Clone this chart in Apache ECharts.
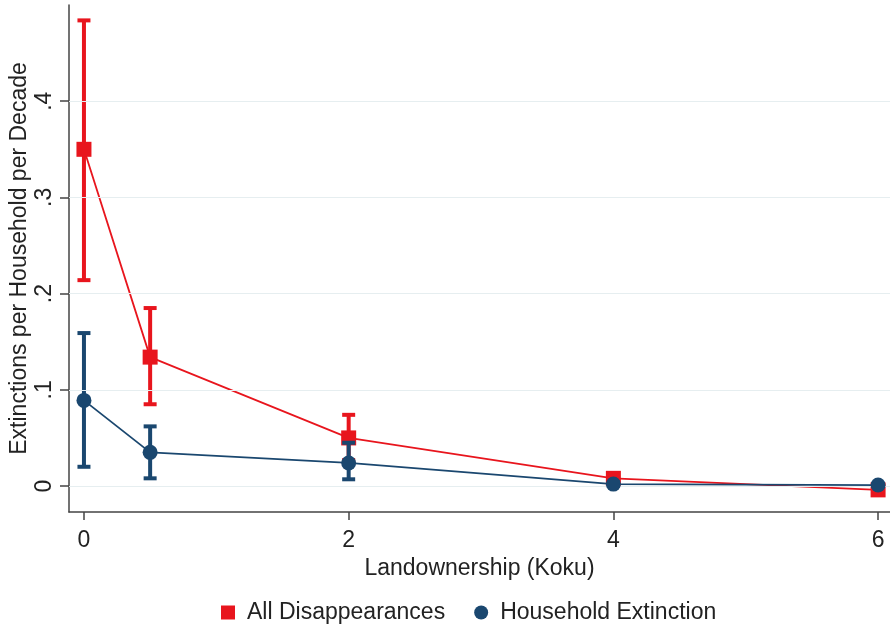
<!DOCTYPE html>
<html><head><meta charset="utf-8">
<script src="https://cdn.jsdelivr.net/npm/echarts@6/dist/echarts.min.js"></script>
<style>html,body{margin:0;padding:0;background:#fff}#c{width:890px;height:631px}</style>
</head><body><div id="c"></div>
<script>
var xValues = [0, 0.5, 2, 4, 6];
var allMean = [0.350, 0.134, 0.050, 0.008, -0.004];
var allLow  = [0.214, 0.085, 0.027, 0.004, -0.007];
var allHigh = [0.484, 0.185, 0.074, 0.011, -0.001];
var extMean = [0.089, 0.035, 0.024, 0.002, 0.001];
var extLow  = [0.020, 0.008, 0.007, 0.000, 0.000];
var extHigh = [0.159, 0.062, 0.045, 0.004, 0.002];
var xTicks = [0, 2, 4, 6];
var yTicks = [0, 0.1, 0.2, 0.3, 0.4];
var yTickLabels = ['0', '.1', '.2', '.3', '.4'];

var RED = '#e8151d', NAVY = '#1a476f';
var FONT = 'Liberation Sans, Arial, sans-serif';
var FS = 23;

function pairs(ys){ return xValues.map(function(x,i){ return [x, ys[i]]; }); }
function ciData(lo, hi){ return xValues.map(function(x,i){ return [x, lo[i], hi[i]]; }); }
function ciSeries(name, lo, hi, color, z){
  return {
    type: 'custom', name: name, z: z, silent: true,
    data: ciData(lo, hi),
    encode: { x: 0, y: [1, 2] },
    renderItem: function(params, api){
      var x = api.value(0);
      var p1 = api.coord([x, api.value(1)]);
      var p2 = api.coord([x, api.value(2)]);
      var cw = 6.5;
      var st = { stroke: color, lineWidth: 4 };
      return { type: 'group', children: [
        { type: 'line', shape: { x1: p1[0], y1: p1[1], x2: p2[0], y2: p2[1] }, style: st },
        { type: 'line', shape: { x1: p1[0]-cw, y1: p1[1], x2: p1[0]+cw, y2: p1[1] }, style: st },
        { type: 'line', shape: { x1: p2[0]-cw, y1: p2[1], x2: p2[0]+cw, y2: p2[1] }, style: st }
      ]};
    }
  };
}

var chart = echarts.init(document.getElementById('c'));
chart.setOption({
  animation: false,
  backgroundColor: '#fff',
  grid: { left: 69, top: 5, right: 0, bottom: 119, containLabel: false, outerBoundsMode: 'none' },
  legend: {
    top: 596, left: 216, itemGap: 29, itemWidth: 14, itemHeight: 14,
    textStyle: { fontFamily: FONT, fontSize: FS, color: '#222', padding: [0, 0, 0, 7] },
    data: [
      { name: 'All Disappearances', icon: 'rect', itemStyle: { color: RED } },
      { name: 'Household Extinction', icon: 'circle', itemStyle: { color: NAVY } }
    ]
  },
  xAxis: {
    type: 'value', min: -0.113, max: 6.09,
    name: 'Landownership (Koku)', nameLocation: 'middle', nameGap: 43,
    nameTextStyle: { fontFamily: FONT, fontSize: FS, color: '#222' },
    axisLine: { show: true, onZero: false, lineStyle: { color: '#444', width: 1.5 } },
    axisTick: { show: true, length: 8, customValues: xTicks, lineStyle: { color: '#444', width: 1.5 } },
    axisLabel: { customValues: xTicks, margin: 17, fontFamily: FONT, fontSize: FS, color: '#222' },
    splitLine: { show: false }
  },
  yAxis: {
    type: 'value', min: -0.027, max: 0.5,
    name: 'Extinctions per Household per Decade', nameLocation: 'middle', nameGap: 38,
    nameMoveOverlap: false,
    nameTextStyle: { fontFamily: FONT, fontSize: FS, color: '#222' },
    axisLine: { show: true, onZero: false, lineStyle: { color: '#444', width: 1.5 } },
    axisTick: { show: true, length: 9, customValues: yTicks, lineStyle: { color: '#444', width: 1.5 } },
    axisLabel: {
      customValues: yTicks, rotate: 90, margin: 13, fontFamily: FONT, fontSize: FS, color: '#222',
      formatter: function(v){ var i = yTicks.indexOf(Math.round(v*10)/10); return i >= 0 ? yTickLabels[i] : ''; }
    },
    splitLine: { show: false }
  },
  series: [
    {
      type: 'line', name: '_grid', silent: true, data: [], z: 0,
      markLine: { silent: true, symbol: 'none', label: { show: false },
        lineStyle: { color: '#e6eef0', width: 1.2, type: 'solid' },
        data: yTicks.map(function(v){ return { yAxis: v }; }) }
    },
    ciSeries('ci_all', allLow, allHigh, RED, 2),
    {
      type: 'line', name: 'All Disappearances', data: pairs(allMean), z: 3,
      symbol: 'rect', symbolSize: 15, color: RED,
      lineStyle: { color: RED, width: 1.8 }, itemStyle: { color: RED }
    },
    ciSeries('ci_ext', extLow, extHigh, NAVY, 4),
    {
      type: 'line', name: 'Household Extinction', data: pairs(extMean), z: 5,
      symbol: 'circle', symbolSize: 15, color: NAVY,
      lineStyle: { color: NAVY, width: 1.8 }, itemStyle: { color: NAVY }
    }
  ]
});
</script></body></html>
